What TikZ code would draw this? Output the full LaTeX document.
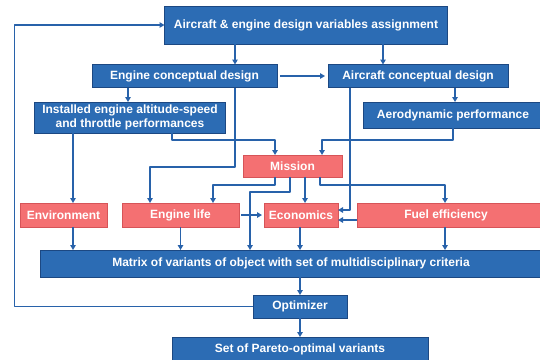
\documentclass[tikz,border=0pt]{standalone}
\usepackage{fontspec}
\setmainfont{Liberation Sans}
\usetikzlibrary{arrows.meta}
\usetikzlibrary{calc}
\definecolor{boxblue}{RGB}{44,108,180}
\definecolor{edgeblue}{RGB}{28,72,130}
\definecolor{boxpink}{RGB}{244,112,114}
\definecolor{edgepink}{RGB}{214,84,88}
\definecolor{lineblue}{RGB}{40,98,170}
\tikzset{
  box/.style={text=white,font=\bfseries\fontsize{12}{13.5}\selectfont,
    align=center,inner sep=0pt,outer sep=0pt,line width=0.8pt},
  bluebox/.style={box,fill=boxblue,draw=edgeblue},
  pinkbox/.style={box,fill=boxpink,draw=edgepink},
  link/.style={draw=lineblue,line width=1.3pt,line join=round,
    -{Triangle[length=5pt,width=5.5pt]}}
}

\begin{document}
\begin{tikzpicture}[x=1pt,y=-1pt]
\useasboundingbox (0,0) rectangle (540,359);
% blue and pink blocks
\node[bluebox,minimum width=283pt,minimum height=38pt] (assign) at (306,25)
  {Aircraft \& engine design variables assignment};
\node[bluebox,minimum width=185pt,minimum height=23pt] (ecd) at (184.5,76)
  {Engine conceptual design};
\node[bluebox,minimum width=180pt,minimum height=23pt] (acd) at (418,76)
  {Aircraft conceptual design};
\node[bluebox,minimum width=191pt,minimum height=31pt] (inst) at (130,117.5)
  {Installed engine altitude-speed\\and throttle performances};
\node[bluebox,minimum width=180pt,minimum height=26pt] (aero) at (453,115)
  {Aerodynamic performance};
\node[pinkbox,minimum width=99pt,minimum height=22pt] (mission) at (292.5,166)
  {Mission};
\node[pinkbox,minimum width=87pt,minimum height=24pt] (env) at (63.5,215)
  {Environment};
\node[pinkbox,minimum width=117pt,minimum height=24pt] (life) at (180.5,215)
  {Engine life};
\node[pinkbox,minimum width=74pt,minimum height=24pt] (econ) at (301,215)
  {Economics};
\node[pinkbox,minimum width=186pt,minimum height=24pt] (fuel) at (450,215)
  {Fuel efficiency\hspace*{8pt}};
\node[bluebox,minimum width=502pt,minimum height=27pt] (matrix) at (291,263.5)
  {Matrix of variants of object with set of multidisciplinary criteria};
\node[bluebox,minimum width=94pt,minimum height=23pt] (opt) at (300,306.5)
  {Optimizer};
\node[bluebox,minimum width=256pt,minimum height=24pt] (pareto) at (300,349)
  {Set of Pareto-optimal variants};

% levels of the horizontal runs
\coordinate (lvlA) at (0,140);
\coordinate (lvlB) at (0,167);
\coordinate (lvlC) at (0,185);
\coordinate (lvlD) at (0,192);

% feedback loop
\draw[link] (opt.west) -| ([xshift=-150pt]assign.west) -- (assign.west);

% design level
\draw[link] (assign.south) ++(-71,0) coordinate (p) -- (p |- ecd.north);
\draw[link] (assign.south) ++(77,0) coordinate (p) -- (p |- acd.north);
\draw[link] ([xshift=3pt]ecd.east) -- ([xshift=-3pt]acd.west);
\draw[link] (ecd.south) ++(-56.5,0) coordinate (p) -- (p |- inst.north);
\draw[link] (acd.south) ++(37,0) coordinate (p) -- (p |- aero.north);

% into mission
\path (mission.north) ++(-17.5,0) coordinate (q);
\draw[link] (inst.south) ++(42,0) coordinate (p) |- (q |- lvlA) -- (q);
\path (mission.north) ++(29.5,0) coordinate (q);
\draw[link] (aero.south) |- (q |- lvlA) -- (q);

% side branches
\draw[link] (inst.south) ++(-57,0) coordinate (p) -- (p |- env.north);
\path (life.north) ++(-30.5,0) coordinate (q);
\draw[link] (ecd.south) ++(50.5,0) coordinate (p) |- (q |- lvlB) -- (q);
\draw[link] (acd.south) ++(-68,0) coordinate (p) |- ([yshift=5pt]econ.east);

% out of mission
\path (life.north) ++(32.5,0) coordinate (q);
\draw[link] (mission.south) ++(-17.5,0) coordinate (p) |- (q |- lvlC) -- (q);
\path (matrix.north) ++(-41,0) coordinate (q);
\draw[link] (mission.south) ++(-2.5,0) coordinate (p) |- (q |- lvlD) -- (q);
\draw[link] (mission.south) ++(12.5,0) coordinate (p) -- (p |- econ.north);
\path (fuel.north) ++(-5,0) coordinate (q);
\draw[link] (mission.south) ++(27.5,0) coordinate (p) |- (q |- lvlC) -- (q);

% criteria
\draw[link] ([xshift=2pt]life.east) -- ([xshift=-2pt]econ.west);
\draw[link] ([yshift=-5pt]fuel.west) -- ([yshift=-5pt]econ.east);
\draw[link] (env.south) ++(9.5,0) coordinate (p) -- (p |- matrix.north);
\draw[link] (life.south) -- (life.south |- matrix.north);
\draw[link] (econ.south) ++(-1,0) coordinate (p) -- (p |- matrix.north);
\draw[link] (fuel.south) ++(-5,0) coordinate (p) -- (p |- matrix.north);

% optimisation
\draw[link] (opt.north |- matrix.south) -- (opt.north);
\draw[link] (opt.south) -- (pareto.north);
\end{tikzpicture}
\end{document}
